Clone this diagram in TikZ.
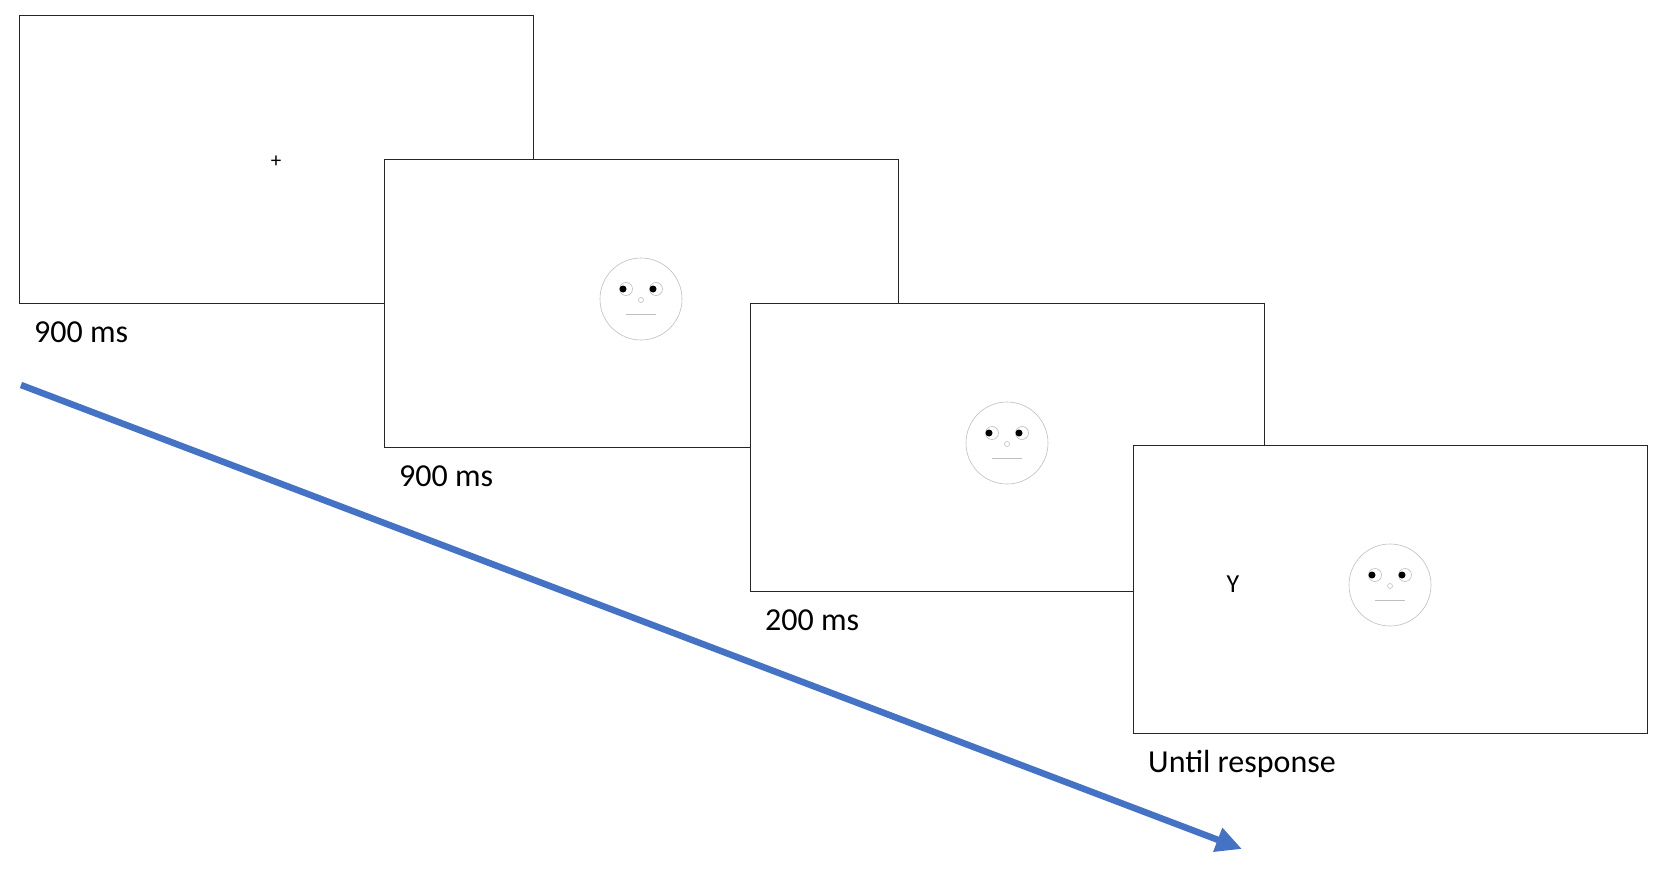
\documentclass[tikz,border=0pt]{standalone}
\usepackage{fontspec}
\usetikzlibrary{arrows.meta}
\setmainfont{Carlito}
\begin{document}
\begin{tikzpicture}[x=1pt,y=-1pt,
  screen/.style={draw=black!85,line width=1.3pt,fill=white,minimum width=514pt,minimum height=288pt,anchor=north west,inner sep=0pt},
  lab/.style={anchor=west,font=\fontsize{32}{32}\selectfont,inner sep=0pt},
  facec/.style={draw=black!25,line width=0.6pt}]
\useasboundingbox[fill=white] (0,0) rectangle (1666,872);
\newcommand{\myface}[1]{%
  \begin{scope}[shift={(#1)}]
  \draw[facec,fill=white] (0,0) circle (41);
  \draw[facec] (-15,-10) circle (6.5) (15,-10) circle (6.5);
  \fill (-18,-10) circle (3.5) (12,-10) circle (3.5);
  \draw[facec] (0,1) circle (2.5);
  \draw[facec] (-15,15) -- (15,15);
  \end{scope}}
\node[screen] (s1) at (19,15) {};
\node[font=\fontsize{21}{21}\selectfont] (plus) at (276,162) {+};
\node[lab] (l1) at ([xshift=15pt,yshift=-28pt]s1.south west) {900 ms};
\node[screen] (s2) at (384,159) {};
\myface{641,299}
\node[lab] (l2) at ([xshift=15pt,yshift=-28pt]s2.south west) {900 ms};
\node[screen] (s3) at (750,303) {};
\myface{1007,443}
\node[lab] (l3) at ([xshift=15pt,yshift=-28pt]s3.south west) {200 ms};
\node[screen] (s4) at (1133,445) {};
\myface{1390,585}
\node[font=\fontsize{26}{26}\selectfont] (y) at (1233,584) {Y};
\node[lab] (l4) at ([xshift=15pt,yshift=-30pt]s4.south west) {Until response};
\coordinate (a0) at (21,385);
\coordinate (a1) at (1242,849);
\draw[color={rgb,255:red,68;green,114;blue,196},line width=6.5pt,-{Triangle[length=26pt,width=24pt]}] (a0) -- (a1);
\end{tikzpicture}
\end{document}
